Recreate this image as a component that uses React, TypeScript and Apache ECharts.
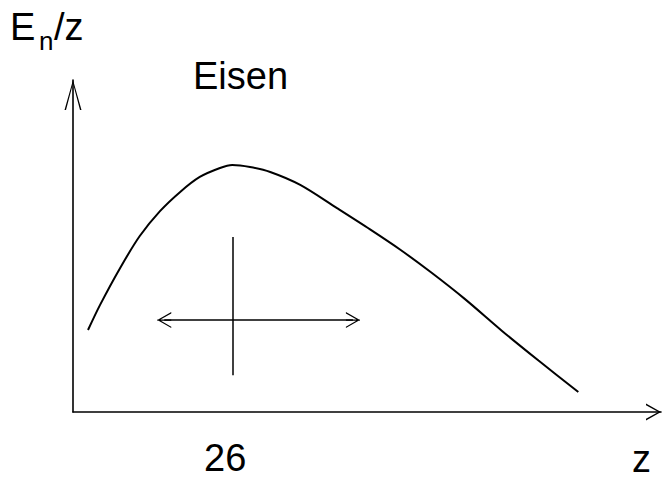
import React, { useEffect, useRef } from "react";
import * as echarts from "echarts";

// Binding energy per nucleon (arbitrary units) against nucleon number z
const zValues = [2.45, 4.4, 7.7, 10.9, 14.2, 17.5, 20.7, 24.0, 26, 28.9, 32.2, 37.1, 43.1, 48.5, 53.5, 58.5, 64, 70, 76, 82.5];
const energyValues = [24.7, 32.2, 43.4, 53.0, 60.5, 66.3, 70.8, 73.5, 74.4, 73.8, 72.3, 68.4, 61.4, 55.0, 48.8, 42.0, 34.0, 24.5, 15.5, 6.0];

// Marker cross at the maximum (iron, z = 26)
const peakZ = 26;
const crossVertical = [52.7, 11.1];
const crossLevel = 27.7;
const crossSpan = [14.9, 45.7];

const FONT = "'Liberation Sans', Arial, sans-serif";

// Open "V" arrowheads, tip pointing up in symbol space
const yArrow = "path://M8.5,0 L17,30 L15.5,30 L8.5,3.5 L1.5,30 L0,30 Z";
const xArrow = "path://M8.5,0 L17,15 L15.2,15 L8.5,2.6 L1.8,15 L0,15 Z";
const crossArrow =
  "path://M8,0 L16,14 L14.6,14 L8,2.4 L1.4,14 L0,14 Z M7.4,0 L8.6,0 L8.6,14 L7.4,14 Z";

export default function App() {
  const ref = useRef<HTMLDivElement>(null);

  useEffect(() => {
    if (!ref.current) return;
    const chart = echarts.init(ref.current, null, { renderer: "svg" });

    chart.setOption({
      animation: false,
      backgroundColor: "#fff",
      grid: { left: 73, right: 2, top: 80, bottom: 71, outerBoundsMode: "none" },
      xAxis: {
        type: "value",
        min: 0,
        max: 96,
        axisLine: {
          show: true,
          onZero: false,
          symbol: ["none", xArrow],
          symbolSize: [17, 15],
          symbolOffset: [0, -7.5],
          lineStyle: { color: "#000", width: 1.6 },
        },
        axisTick: { show: false },
        axisLabel: { show: false },
        splitLine: { show: false },
      },
      yAxis: {
        type: "value",
        min: 0,
        max: 100,
        axisLine: {
          show: true,
          onZero: false,
          symbol: ["none", yArrow],
          symbolSize: [17, 30],
          symbolOffset: [0, -15],
          lineStyle: { color: "#000", width: 1.6 },
        },
        axisTick: { show: false },
        axisLabel: { show: false },
        splitLine: { show: false },
      },
      series: [
        {
          type: "line",
          data: zValues.map((z, i) => [z, energyValues[i]]),
          smooth: 0.3,
          symbol: "none",
          silent: true,
          lineStyle: { color: "#000", width: 2 },
          markLine: {
            silent: true,
            animation: false,
            label: { show: false },
            emphasis: { disabled: true },
            lineStyle: { color: "#000", width: 1.5, type: "solid" },
            symbol: [crossArrow, crossArrow],
            symbolSize: [16, 14],
            data: [
              [
                { coord: [crossSpan[0], crossLevel] },
                { coord: [crossSpan[1], crossLevel] },
              ],
              [
                { coord: [peakZ, crossVertical[0]], symbol: "none" },
                { coord: [peakZ, crossVertical[1]], symbol: "none" },
              ],
            ],
          },
        },
      ],
      graphic: [
        {
          type: "text",
          x: 10,
          y: 27,
          style: { text: "E", font: `38px ${FONT}`, fill: "#000", verticalAlign: "middle" },
        },
        {
          type: "text",
          x: 39,
          y: 41,
          style: { text: "n", font: `26px ${FONT}`, fill: "#000", verticalAlign: "middle" },
        },
        {
          type: "text",
          x: 54,
          y: 27,
          style: { text: "/z", font: `38px ${FONT}`, fill: "#000", verticalAlign: "middle" },
        },
        {
          type: "text",
          x: 193,
          y: 76,
          style: { text: "Eisen", font: `38px ${FONT}`, fill: "#000", verticalAlign: "middle" },
        },
        {
          type: "text",
          x: 204,
          y: 458,
          style: { text: String(peakZ), font: `38px ${FONT}`, fill: "#000", verticalAlign: "middle" },
        },
        {
          type: "text",
          x: 632,
          y: 459,
          style: { text: "z", font: `38px ${FONT}`, fill: "#000", verticalAlign: "middle" },
        },
      ],
    });

    return () => chart.dispose();
  }, []);

  return (
    <div
      ref={ref}
      style={{ position: "fixed", left: 0, top: 0, width: 663, height: 483 }}
    />
  );
}
